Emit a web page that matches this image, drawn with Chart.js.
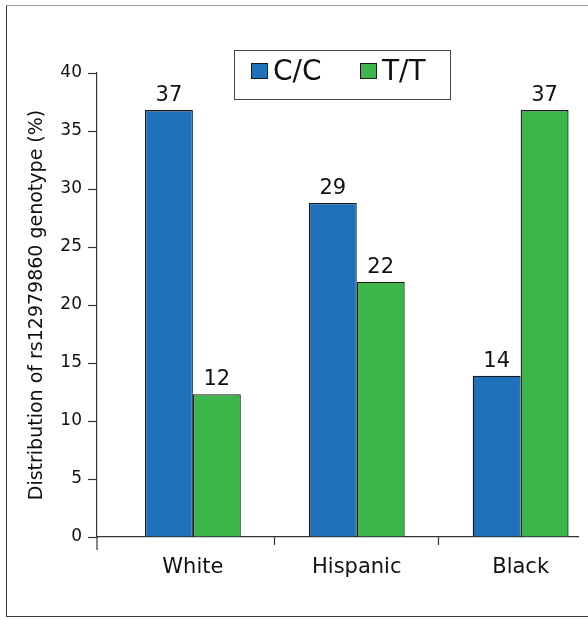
<!DOCTYPE html>
<html>
<head>
<meta charset="utf-8">
<script src="https://cdn.jsdelivr.net/npm/chart.js@4.4.1/dist/chart.umd.min.js"></script>
<style>
  html, body { margin: 0; padding: 0; background: #fff; overflow: hidden; }
  #wrap { position: relative; width: 588px; height: 620px; overflow: hidden; }
  #frame {
    position: absolute; left: 6px; top: 5px; width: 700px; height: 612px;
    border: 1.5px solid #3a3a3a; border-top-color: #9a9a9a; box-sizing: border-box;
  }
  #chart { position: absolute; left: 0; top: 0; }
</style>
</head>
<body>
<div id="wrap">
  <div id="frame"></div>
  <canvas id="chart" width="588" height="620"></canvas>
</div>
<script>
'use strict';

var groups = ['White', 'Hispanic', 'Black'];
var ccValues = [36.8, 28.8, 13.9];
var ttValues = [12.3, 22.0, 36.8];
var yTicks = [0, 5, 10, 15, 20, 25, 30, 35, 40];

var blue = '#1f72ba';
var green = '#3cb54b';
var edge = '#1a1a1a';
var font = '"DejaVu Sans", sans-serif';

function points(values) {
    return values.map(function (v, i) { return { x: i, y: v }; });
}

// value labels above each bar
var valueLabels = {
    id: 'valueLabels',
    afterDatasetsDraw: function (chart) {
        var ctx = chart.ctx;
        ctx.save();
        ctx.font = '21px ' + font;
        ctx.fillStyle = '#111';
        ctx.textAlign = 'center';
        ctx.textBaseline = 'bottom';
        chart.data.datasets.forEach(function (ds, di) {
            chart.getDatasetMeta(di).data.forEach(function (bar, i) {
                ctx.fillText(Math.round(ds.data[i].y), bar.x, bar.y - 4);
            });
        });
        ctx.restore();
    }
};

// boxed legend and the little stub under the y axis
var boxLegend = {
    id: 'boxLegend',
    afterDraw: function (chart) {
        var ctx = chart.ctx;
        var area = chart.chartArea;
        ctx.save();
        ctx.strokeStyle = '#333';
        ctx.lineWidth = 1.2;
        ctx.beginPath();
        ctx.moveTo(area.left, area.bottom);
        ctx.lineTo(area.left, area.bottom + 13);
        ctx.stroke();

        ctx.strokeStyle = '#444';
        ctx.lineWidth = 1;
        ctx.strokeRect(234.5, 50.5, 216, 49);

        var items = [{ x: 251 }, { x: 360 }];
        ctx.font = '28px ' + font;
        ctx.textBaseline = 'middle';
        ctx.textAlign = 'left';
        chart.data.datasets.forEach(function (ds, i) {
            var x = items[i].x;
            ctx.fillStyle = ds.backgroundColor;
            ctx.fillRect(x, 63, 17, 16);
            ctx.strokeStyle = edge;
            ctx.strokeRect(x + 0.5, 63.5, 16, 15);
            ctx.fillStyle = '#111';
            ctx.fillText(ds.label, x + 22, 73);
        });
        ctx.restore();
    }
};

new Chart(document.getElementById('chart'), {
    type: 'bar',
    data: {
        datasets: [
            {
                label: 'C/C',
                data: points(ccValues),
                backgroundColor: blue,
                borderColor: edge,
                borderWidth: 1.3
            },
            {
                label: 'T/T',
                data: points(ttValues),
                backgroundColor: green,
                borderColor: edge,
                borderWidth: 1.3
            }
        ]
    },
    options: {
        responsive: false,
        animation: false,
        categoryPercentage: 0.585,
        barPercentage: 1,
        layout: { padding: { top: 73, right: 10, left: 0, bottom: 0 } },
        plugins: {
            legend: { display: false },
            tooltip: { enabled: false }
        },
        scales: {
            x: {
                type: 'linear',
                min: -0.585,
                max: 2.35,
                offset: false,
                afterBuildTicks: function (s) {
                    s.ticks = groups.map(function (g, i) { return { value: i }; });
                },
                afterFit: function (s) { s.height = 83; },
                ticks: {
                    autoSkip: false,
                    padding: 10,
                    color: '#111',
                    font: { family: font, size: 21 },
                    callback: function (v) { return groups[v]; }
                },
                grid: {
                    offset: true,
                    drawOnChartArea: false,
                    tickLength: 8,
                    tickWidth: 1.2,
                    tickColor: function (c) { return c.index === 0 ? 'rgba(0,0,0,0)' : '#333'; }
                },
                border: { color: '#333', width: 1.2 }
            },
            y: {
                min: 0,
                max: 40,
                afterBuildTicks: function (s) {
                    s.ticks = yTicks.map(function (v) { return { value: v }; });
                },
                afterFit: function (s) { s.width = 97; },
                ticks: {
                    padding: 6,
                    color: '#111',
                    font: { family: font, size: 17 }
                },
                grid: {
                    drawOnChartArea: false,
                    tickLength: 9,
                    tickWidth: 1.2,
                    tickColor: '#333'
                },
                border: { color: '#333', width: 1.2 },
                title: {
                    display: true,
                    text: 'Distribution of rs12979860 genotype (%)',
                    color: '#111',
                    font: { family: font, size: 19 },
                    padding: { top: 26, bottom: 0 }
                }
            }
        }
    },
    plugins: [valueLabels, boxLegend]
});
</script>
</body>
</html>
